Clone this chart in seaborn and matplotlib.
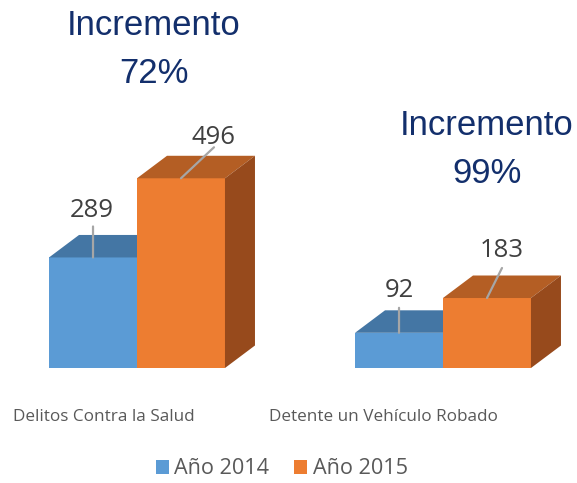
import matplotlib
matplotlib.use("Agg")
import matplotlib.pyplot as plt
import seaborn as sns
import pandas as pd
from matplotlib.patches import Polygon, Patch

# ---- data ----
categories = ["Delitos Contra la Salud", "Detente un Vehículo Robado"]
series = ["Año 2014", "Año 2015"]
values_2014 = [289, 92]
values_2015 = [496, 183]
increment_word = "Incremento"
increments = ["72%", "99%"]

df = pd.DataFrame({
    "Delito": categories * 2,
    "Año": [series[0]] * len(categories) + [series[1]] * len(categories),
    "Valor": values_2014 + values_2015,
})

# ---- style ----
front = ["#5B9BD5", "#ED7D31"]
top = ["#4476A4", "#B45E24"]
side = ["#3B6690", "#974A1C"]
title_color = "#132F6C"
label_color = "#404040"
axis_text_color = "#595959"
leader_color = "#A6A6A6"

W, H = 577, 483
fig = plt.figure(figsize=(W / 100, H / 100), dpi=100)
ax = fig.add_axes([0, 0, 1, 1])

sns.barplot(data=df, x="Delito", y="Valor", hue="Año", palette=front, saturation=1,
            width=0.575, errorbar=None, linewidth=0, ax=ax, legend=False)

px_x = 306.0      # pixels per category step
px_y = 0.3825     # pixels per unit
base_px = 368
c0_px = 137
ax.set_xlim(-c0_px / px_x, (W - c0_px) / px_x)
ax.set_ylim(-(H - base_px) / px_y, base_px / px_y)
ax.axis("off")

dx = 30 / px_x
dy = 22.5 / px_y

# label placement (pixel offsets from bar top centre): [series][category]
label_off = [[(-1, 40), (0, 36)], [(33, 34), (15, 41)]]
line_end = [[(0, 31), (0, 25)], [(33, 31), (15, 30)]]

for i, cont in enumerate(ax.containers):
    for j, bar in enumerate(cont):
        z = 2 + 2 * i
        bar.set_zorder(z)
        x0, w, h = bar.get_x(), bar.get_width(), bar.get_height()
        ax.add_patch(Polygon([(x0, h), (x0 + w, h), (x0 + w + dx, h + dy), (x0 + dx, h + dy)],
                             closed=True, facecolor=top[i], lw=0, zorder=z + 1))
        ax.add_patch(Polygon([(x0 + w, 0), (x0 + w + dx, dy), (x0 + w + dx, h + dy), (x0 + w, h)],
                             closed=True, facecolor=side[i], lw=0, zorder=z + 1))
        cx = x0 + w / 2
        ax.annotate("", xy=(cx, h), xytext=line_end[i][j], textcoords="offset pixels",
                    arrowprops=dict(arrowstyle="-", color=leader_color, lw=1.6,
                                    shrinkA=0, shrinkB=0), zorder=10)
        ax.annotate(f"{int(round(h))}", xy=(cx, h), xytext=label_off[i][j],
                    textcoords="offset pixels", ha="center", va="baseline",
                    fontsize=18.5, family="Open Sans", color=label_color, zorder=10)

# category labels
cat_right_px = [195, 498]
for j, cat in enumerate(categories):
    fig.text(cat_right_px[j] / W, 1 - 421 / H, cat, ha="right", va="baseline",
             fontsize=12.3, family="Open Sans", color=axis_text_color)

# increment annotations
title_pos = [(154, 35, 83), (487, 135, 183)]
for j, inc in enumerate(increments):
    x, yb1, yb2 = title_pos[j]
    fig.text(x / W, 1 - yb1 / H, increment_word, ha="center", va="baseline",
             fontsize=25, family="Liberation Sans", color=title_color)
    fig.text(x / W, 1 - yb2 / H, inc, ha="center", va="baseline",
             fontsize=25, family="Liberation Sans", color=title_color)

# legend
handles = [Patch(facecolor=front[k], edgecolor="none") for k in range(len(series))]
fig.legend(handles, series, loc="center", bbox_to_anchor=(282 / W, 1 - 469 / H),
           ncol=2, frameon=False, prop={"family": "Open Sans", "size": 15.6},
           labelcolor=axis_text_color, handlelength=0.6, handleheight=0.6,
           handletextpad=0.25, columnspacing=1.15, borderpad=0, borderaxespad=0)

fig.savefig("out.png", dpi=100)
